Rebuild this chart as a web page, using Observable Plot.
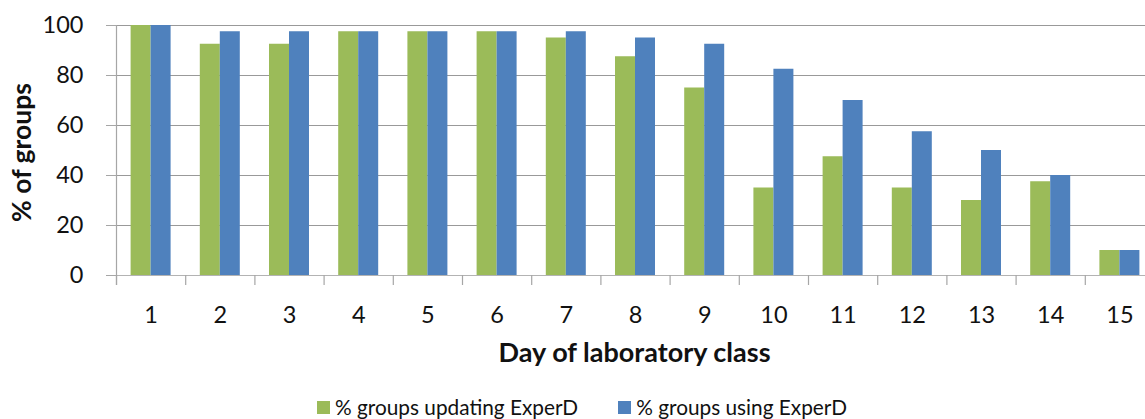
<!DOCTYPE html>
<html><head><meta charset="utf-8">
<script src="https://cdn.jsdelivr.net/npm/d3@7"></script>
<script src="https://cdn.jsdelivr.net/npm/@observablehq/plot@0.6"></script>
<style>
body{margin:0;background:#fff;font-family:Lato,"Open Sans",sans-serif;}
#legend{height:24px;display:flex;justify-content:flex-start;align-items:center;font-size:20.8px;color:#111;padding-left:317px;line-height:24px;}
#legend .item{display:flex;align-items:center;margin-right:40px;}
#legend .sw{width:13px;height:13px;margin-right:5px;}
</style></head><body>
<div id="chart"></div>
<div id="legend"></div>
<script>
const days = [1,2,3,4,5,6,7,8,9,10,11,12,13,14,15];
const updating = [100,92.5,92.5,97.5,97.5,97.5,95,87.5,75,35,47.5,35,30,37.5,10];
const using = [100,97.5,97.5,97.5,97.5,97.5,97.5,95,92.5,82.5,70,57.5,50,40,10];
const seriesNames = ["% groups updating ExperD","% groups using ExperD"];
const colors = ["#9BBB59","#4F81BD"];
const yTicks = [0,20,40,60,80,100];
const yTitle = "% of groups";
const xTitle = "Day of laboratory class";

const barW = 0.289;
const data = [];
days.forEach((d,i)=>{
  data.push({day:d, series:seriesNames[0], value:updating[i], x1:d-barW, x2:d});
  data.push({day:d, series:seriesNames[1], value:using[i], x1:d, x2:d+barW});
});
const bounds = d3.range(days.length+1).map(i=>days[0]-0.5+i);

const plot = Plot.plot({
  width:1145, height:395,
  marginLeft:116, marginRight:-9, marginTop:25, marginBottom:120,
  style:{fontFamily:"Lato, 'Open Sans', sans-serif", background:"#fff", overflow:"visible"},
  x:{type:"linear", domain:[0.5,15.5], axis:null},
  y:{domain:[0,100], axis:null},
  color:{domain:seriesNames, range:colors},
  marks:[
    Plot.ruleY(yTicks.filter(t=>t>0), {stroke:"#999", strokeWidth:1.2}),
    Plot.rectY(data, {x1:"x1", x2:"x2", y:"value", fill:"series"}),
    Plot.ruleY([0], {stroke:"#b3b3b3", strokeWidth:1.2}),
    Plot.ruleX(bounds, {y1:0, y2:-4, stroke:"#a6a6a6", strokeWidth:1.2}),
    Plot.ruleX([bounds[0]], {y1:-4, y2:100, stroke:"#a6a6a6", strokeWidth:1.2}),
    Plot.axisY(yTicks, {tickSize:10, tickPadding:23, fontSize:23.5, stroke:"#a6a6a6", fill:"#111", label:null}),
    Plot.axisX(days, {tickSize:0, tickPadding:31, fontSize:23.5, fill:"#111", label:null}),
    Plot.text([yTitle], {frameAnchor:"left", rotate:-90, dx:-94, dy:2, textAnchor:"middle", lineAnchor:"middle", fontSize:26.5, fontWeight:"bold", fill:"#111"}),
    Plot.text([xTitle], {frameAnchor:"bottom", dy:78, dx:-1, textAnchor:"middle", lineAnchor:"middle", fontSize:27, fontWeight:"bold", fill:"#111"})
  ]
});
document.getElementById("chart").appendChild(plot);

const lg = document.getElementById("legend");
seriesNames.forEach((s,i)=>{
  const it = document.createElement("div"); it.className="item";
  const sw = document.createElement("div"); sw.className="sw"; sw.style.background=colors[i];
  const tx = document.createElement("span"); tx.textContent=s;
  it.appendChild(sw); it.appendChild(tx); lg.appendChild(it);
});
</script>
</body></html>
